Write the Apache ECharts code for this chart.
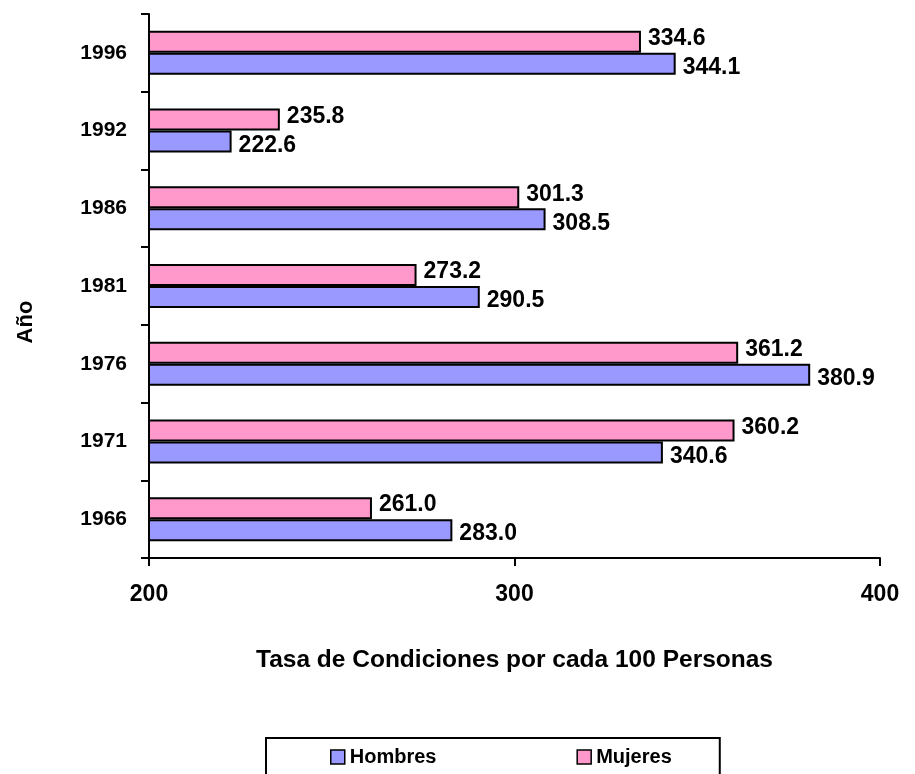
<!DOCTYPE html>
<html>
<head>
<meta charset="utf-8">
<script src="https://cdn.jsdelivr.net/npm/echarts@6/dist/echarts.min.js"></script>
<style>
  html, body { margin: 0; padding: 0; background: #fff; }
  #main { width: 915px; height: 774px; }
</style>
</head>
<body>
<div id="main"></div>
<script>
// datos del gráfico
var years = ["1966", "1971", "1976", "1981", "1986", "1992", "1996"];
var hombres = [283.0, 340.6, 380.9, 290.5, 308.5, 222.6, 344.1];
var mujeres = [261.0, 360.2, 361.2, 273.2, 301.3, 235.8, 334.6];
var xTicks = [200, 300, 400];

var myChart = echarts.init(document.getElementById("main"));

var font = "Arial, 'Liberation Sans', sans-serif";
var labelStyle = {
  show: true,
  position: "right",
  distance: 7,
  fontFamily: font,
  fontWeight: "bold",
  fontSize: 23,
  color: "#000",
  formatter: function (p) {
    return p.value.toFixed(1);
  }
};

var option = {
  animation: false,
  textStyle: { fontFamily: font },
  grid: { left: 149, right: 35, top: 14, bottom: 216 },
  legend: {
    left: 266,
    top: 738,
    data: ["Hombres", "Mujeres"],
    icon: "rect",
    itemWidth: 14,
    itemHeight: 14,
    itemGap: 140,
    borderColor: "#000",
    borderWidth: 2,
    padding: [9, 48, 20, 64],
    textStyle: { fontFamily: font, fontWeight: "bold", fontSize: 20, color: "#000" },
    itemStyle: { borderColor: "#000", borderWidth: 1.5 }
  },
  xAxis: {
    type: "value",
    min: xTicks[0],
    max: xTicks[xTicks.length - 1],
    interval: 100,
    name: "Tasa de Condiciones por cada 100 Personas",
    nameLocation: "middle",
    nameGap: 90,
    nameTextStyle: { fontFamily: font, fontWeight: "bold", fontSize: 24.5, color: "#000" },
    axisLine: { show: true, lineStyle: { color: "#000", width: 2 } },
    axisTick: { show: true, length: 8, lineStyle: { color: "#000", width: 2 } },
    axisLabel: { margin: 25, fontFamily: font, fontWeight: "bold", fontSize: 23, color: "#000" },
    splitLine: { show: false }
  },
  yAxis: {
    type: "category",
    data: years,
    name: "Año",
    nameLocation: "middle",
    nameGap: 112,
    nameTextStyle: {
      fontFamily: font, fontWeight: "bold", fontSize: 22, color: "#000",
      padding: [0, 72, 0, 0]
    },
    axisLine: { show: true, lineStyle: { color: "#000", width: 2 } },
    axisTick: { show: true, length: 8, lineStyle: { color: "#000", width: 2 } },
    axisLabel: { margin: 22, fontFamily: font, fontWeight: "bold", fontSize: 21, color: "#000" }
  },
  series: [
    {
      name: "Mujeres",
      type: "bar",
      data: mujeres,
      barWidth: 22,
      barGap: "0%",
      itemStyle: { color: "#FF99CC", borderColor: "#000", borderWidth: 2 },
      label: Object.assign({}, labelStyle, { offset: [0, -3] })
    },
    {
      name: "Hombres",
      type: "bar",
      data: hombres,
      barWidth: 22,
      barGap: "0%",
      itemStyle: { color: "#9999FF", borderColor: "#000", borderWidth: 2 },
      label: Object.assign({}, labelStyle, { offset: [0, 4] })
    }
  ]
};

myChart.setOption(option);
</script>
</body>
</html>
